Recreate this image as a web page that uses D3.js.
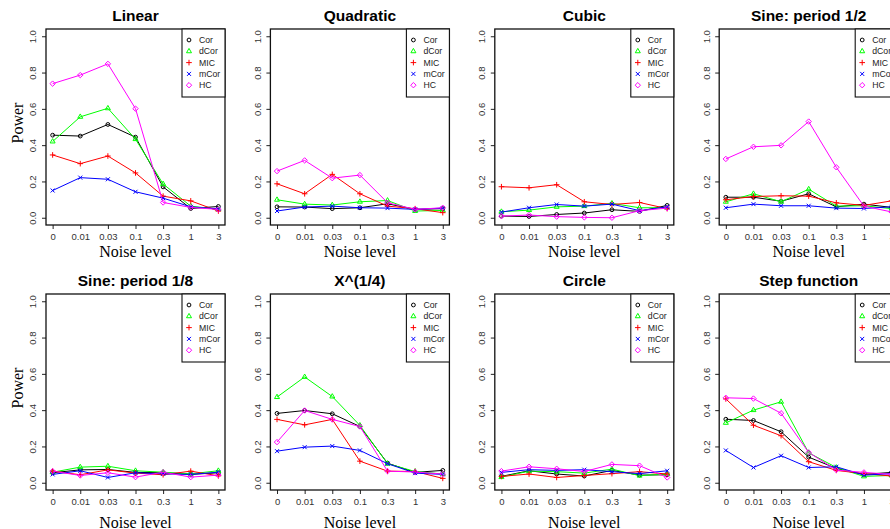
<!DOCTYPE html>
<html>
<head>
<meta charset="utf-8">
<script src="https://cdnjs.cloudflare.com/ajax/libs/d3/7.8.5/d3.min.js"></script>
<style>
  body { margin: 0; background: #fff; }
  svg { display: block; }
  .tick text { font-family: "Liberation Sans", Arial, sans-serif; font-size: 9.5px; fill: #333; }
  .tick line { stroke: #222; }
</style>
</head>
<body>
<div id="chart"></div>
<script>

// noise levels along x, methods in the legend
var noiseLevels = ["0", "0.01", "0.03", "0.1", "0.3", "1", "3"];
var methods = ["Cor", "dCor", "MIC", "mCor", "HC"];
var titles = ["Linear", "Quadratic", "Cubic", "Sine: period 1/2",
              "Sine: period 1/8", "X^(1/4)", "Circle", "Step function"];

// power, one row per method (Cor, dCor, MIC, mCor, HC)
var linear = [
  [0.455, 0.450, 0.514, 0.444, 0.170, 0.051, 0.062],
  [0.420, 0.556, 0.603, 0.433, 0.186, 0.064, 0.046],
  [0.346, 0.298, 0.340, 0.247, 0.119, 0.093, 0.037],
  [0.150, 0.221, 0.212, 0.143, 0.108, 0.060, 0.049],
  [0.739, 0.786, 0.848, 0.601, 0.084, 0.057, 0.046]
];
var quadratic = [
  [0.060, 0.059, 0.050, 0.055, 0.077, 0.046, 0.050],
  [0.099, 0.075, 0.070, 0.088, 0.095, 0.037, 0.040],
  [0.187, 0.132, 0.239, 0.132, 0.064, 0.050, 0.028],
  [0.037, 0.059, 0.064, 0.055, 0.053, 0.046, 0.053],
  [0.257, 0.316, 0.218, 0.235, 0.083, 0.046, 0.055]
];
var cubic = [
  [0.009, 0.007, 0.018, 0.026, 0.044, 0.035, 0.068],
  [0.033, 0.042, 0.060, 0.064, 0.079, 0.055, 0.055],
  [0.171, 0.165, 0.182, 0.088, 0.073, 0.084, 0.050],
  [0.031, 0.055, 0.073, 0.064, 0.075, 0.039, 0.060],
  [0.009, 0.015, 0.006, 0.002, 0.000, 0.039, 0.053]
];
var sineHalf = [
  [0.113, 0.113, 0.091, 0.132, 0.060, 0.075, 0.057],
  [0.088, 0.132, 0.088, 0.157, 0.064, 0.066, 0.050],
  [0.099, 0.117, 0.121, 0.119, 0.082, 0.068, 0.093],
  [0.055, 0.075, 0.066, 0.066, 0.053, 0.051, 0.060],
  [0.324, 0.391, 0.399, 0.530, 0.278, 0.064, 0.032]
];
var sineEighth = [
  [0.055, 0.071, 0.073, 0.057, 0.055, 0.046, 0.055],
  [0.058, 0.086, 0.091, 0.066, 0.058, 0.049, 0.066],
  [0.064, 0.044, 0.071, 0.053, 0.044, 0.064, 0.038],
  [0.046, 0.066, 0.029, 0.055, 0.049, 0.046, 0.058],
  [0.064, 0.040, 0.055, 0.031, 0.058, 0.031, 0.042]
];
var fourthRoot = [
  [0.382, 0.398, 0.380, 0.310, 0.108, 0.057, 0.068],
  [0.472, 0.583, 0.475, 0.316, 0.105, 0.062, 0.048],
  [0.349, 0.319, 0.349, 0.119, 0.064, 0.062, 0.024],
  [0.174, 0.196, 0.202, 0.178, 0.105, 0.053, 0.046],
  [0.224, 0.398, 0.349, 0.310, 0.064, 0.059, 0.048]
];
var circle = [
  [0.035, 0.066, 0.048, 0.037, 0.068, 0.042, 0.044],
  [0.031, 0.064, 0.061, 0.053, 0.075, 0.039, 0.048],
  [0.035, 0.048, 0.029, 0.040, 0.050, 0.061, 0.048],
  [0.057, 0.072, 0.068, 0.072, 0.061, 0.050, 0.066],
  [0.064, 0.088, 0.077, 0.062, 0.101, 0.094, 0.029]
];
var step = [
  [0.350, 0.343, 0.281, 0.141, 0.079, 0.046, 0.057],
  [0.330, 0.400, 0.446, 0.165, 0.084, 0.035, 0.040],
  [0.462, 0.317, 0.259, 0.116, 0.068, 0.050, 0.037],
  [0.178, 0.084, 0.149, 0.084, 0.088, 0.042, 0.050],
  [0.468, 0.464, 0.383, 0.167, 0.070, 0.057, 0.046]
];

var panels = [linear, quadratic, cubic, sineHalf, sineEighth, fourthRoot, circle, step];

var colors = ["#000000", "#00ff00", "#ff0000", "#0000ff", "#ff00ff"];
var yTicks = [0, 0.2, 0.4, 0.6, 0.8, 1.0];

var width = 890, height = 529,
    colW = 224.4,
    boxW = 179, boxH = 196,
    firstLeft = 46,
    rowTop = [29, 294],
    xlabOffset = [31.5, 38.3];

var sans = '"Liberation Sans", Arial, sans-serif',
    serif = '"Liberation Serif", "Times New Roman", serif';

// R style point symbols: open circle, triangle, plus, cross, diamond
function marker(k) {
  if (k == 0) { var r = 1.9; return "M" + (-r) + ",0a" + r + "," + r + " 0 1,0 " + (2*r) + ",0a" + r + "," + r + " 0 1,0 " + (-2*r) + ",0Z"; }
  if (k == 1) return "M0,-2.9L2.5,1.45L-2.5,1.45Z";
  if (k == 2) return "M-2.8,0H2.8M0,-2.8V2.8";
  if (k == 3) return "M-2,-2L2,2M-2,2L2,-2";
  return "M0,-2.7L2.7,0L0,2.7L-2.7,0Z";
}

var svg = d3.select("#chart").append("svg")
    .attr("width", width)
    .attr("height", height);

panels.forEach(function(series, p) {
  var col = p % 4, row = Math.floor(p / 4);

  var g = svg.append("g")
    .attr("transform", "translate(" + (firstLeft + col * colW) + "," + rowTop[row] + ")");

  var x = d3.scaleLinear()
    .domain([-0.24, noiseLevels.length - 1 + 0.24])
    .range([0, boxW]);
  var y = d3.scaleLinear()
    .domain([-0.04, 1.04])
    .range([boxH, 0]);

  // y axis, labels parallel to the axis
  g.append("g")
    .classed("axisLeft", true)
    .call(d3.axisLeft(y).tickValues(yTicks).tickFormat(d3.format(".1f")).tickSize(4))
    .call(function(a) {
      a.select(".domain").remove();
      a.selectAll("text")
        .attr("transform", "rotate(-90)")
        .attr("x", 0)
        .attr("y", -9.6)
        .attr("dy", null)
        .style("text-anchor", "middle");
    });

  // x axis
  g.append("g")
    .classed("x-axis", true)
    .attr("transform", "translate(0," + boxH + ")")
    .call(d3.axisBottom(x)
      .tickValues(d3.range(noiseLevels.length))
      .tickFormat(function(i) { return noiseLevels[i]; })
      .tickSize(4)
      .tickPadding(4.3))
    .call(function(a) { a.select(".domain").remove(); });

  var line = d3.line()
    .x(function(d, i) { return x(i); })
    .y(function(d) { return y(d); });

  series.forEach(function(vals, k) {
    g.append("path")
      .attr("d", line(vals))
      .attr("fill", "none")
      .attr("stroke", colors[k])
      .attr("stroke-width", 1);

    g.selectAll(".pt" + k)
      .data(vals)
      .enter().append("path")
      .attr("class", "pt" + k)
      .attr("transform", function(d, i) { return "translate(" + x(i) + "," + y(d) + ")"; })
      .attr("d", marker(k))
      .attr("fill", "none")
      .attr("stroke", colors[k])
      .attr("stroke-width", 1);
  });

  // plot box
  g.append("rect")
    .attr("width", boxW)
    .attr("height", boxH)
    .attr("fill", "none")
    .attr("stroke", "#111")
    .attr("stroke-width", 1.3);

  // legend
  var leg = g.append("g")
    .attr("transform", "translate(" + (boxW - 43) + ",0)");
  leg.append("rect")
    .attr("width", 43)
    .attr("height", 68)
    .attr("fill", "#fff")
    .attr("stroke", "#111")
    .attr("stroke-width", 1.1);
  methods.forEach(function(m, k) {
    var ly = 11 + k * 11.3;
    leg.append("path")
      .attr("transform", "translate(7," + ly + ")")
      .attr("d", marker(k))
      .attr("fill", "none")
      .attr("stroke", colors[k])
      .attr("stroke-width", 1);
    leg.append("text")
      .attr("x", 17)
      .attr("y", ly)
      .attr("dy", "0.35em")
      .style("font-family", sans)
      .style("font-size", "8.7px")
      .style("fill", "#222")
      .text(m);
  });

  // title
  g.append("text")
    .attr("x", boxW / 2)
    .attr("y", -8)
    .style("text-anchor", "middle")
    .style("font-family", sans)
    .style("font-weight", "bold")
    .style("font-size", "15.5px")
    .text(titles[p]);

  g.append("text")
    .attr("x", boxW / 2)
    .attr("y", boxH + xlabOffset[row])
    .style("text-anchor", "middle")
    .style("font-family", serif)
    .style("font-size", "16px")
    .text("Noise level");

  if (col == 0) {
    g.append("text")
      .attr("transform", "translate(-23.3," + (boxH / 2 - 4) + ") rotate(-90)")
      .style("text-anchor", "middle")
      .style("font-family", serif)
      .style("font-size", "16px")
      .text("Power");
  }
});

</script>
</body>
</html>
